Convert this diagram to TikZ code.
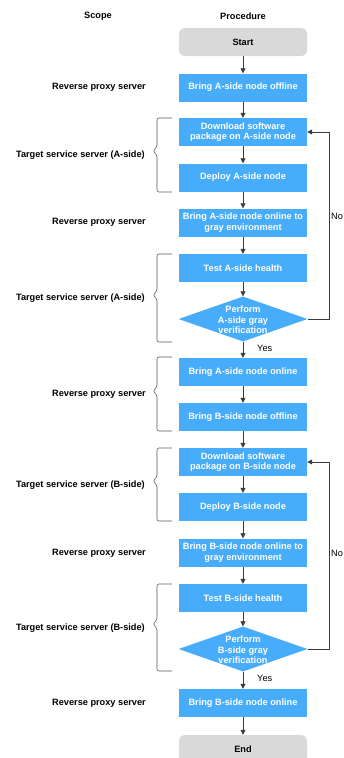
\documentclass[tikz,border=0pt]{standalone}
\usepackage{fontspec}
\setmainfont{Liberation Sans}
\usetikzlibrary{arrows.meta,shapes.geometric}
\definecolor{boxblue}{RGB}{71,172,250}
\definecolor{termgray}{RGB}{217,217,217}
\definecolor{linegray}{RGB}{60,60,60}
\definecolor{bracegray}{RGB}{90,90,90}
\newcommand\scopebrace[3]{%
  \draw[bracestyle] (172,#1) -- (157,#1) -- (157,#2-4) -- (153,#2) -- (157,#2+4) -- (157,#3) -- (172,#3);}
\begin{document}
\begin{tikzpicture}[x=1pt,y=-1pt,
  font=\fontsize{9.2}{10.5}\selectfont\bfseries,
  procbox/.style={fill=boxblue, text=white, minimum width=128pt, minimum height=28pt, inner sep=1pt, align=center},
  termbox/.style={fill=termgray, rounded corners=6pt, text=black, minimum width=128pt, minimum height=28pt, inner sep=1pt},
  decbox/.style={diamond, fill=boxblue, minimum width=129pt, minimum height=45pt, inner sep=0pt},
  dectext/.style={text=white, align=center, inner sep=0pt},
  scopelabel/.style={anchor=east, text=black, inner sep=0pt},
  head/.style={text=black, inner sep=0pt},
  flow/.style={draw=linegray, line width=0.8pt, -{Triangle[length=5pt,width=5pt]}},
  branch/.style={text=black, anchor=west, inner sep=0pt, font=\fontsize{9.2}{10.5}\selectfont},
  bracestyle/.style={draw=bracegray, line width=0.6pt, rounded corners=2pt}]
\fill[white] (0,0) rectangle (343,758);
\useasboundingbox (0,0) rectangle (343,758);

% headings
\node[head] (hscope) at (98,16) {Scope};
\node[head] (hproc) at (243,16) {Procedure};

% procedure
\node[termbox] (start) at (243,42) {Start};
\node[procbox] (n1) at (243,87.5) {Bring A-side node offline};
\node[procbox] (n2) at (243,132) {Download software\\package on A-side node};
\node[procbox] (n3) at (243,177.5) {Deploy A-side node};
\node[procbox] (n4) at (243,222.5) {Bring A-side node online to\\gray environment};
\node[procbox] (n5) at (243,268) {Test A-side health};
\node[decbox] (d1) at (243,319) {};
\node[dectext] (d1t) at (243,320) {Perform\\A-side gray\\verification};
\node[procbox] (n6) at (243,372) {Bring A-side node online};
\node[procbox] (n7) at (243,417) {Bring B-side node offline};
\node[procbox] (n8) at (243,462) {Download software\\package on B-side node};
\node[procbox] (n9) at (243,507) {Deploy B-side node};
\node[procbox] (n10) at (243,552.5) {Bring B-side node online to\\gray environment};
\node[procbox] (n11) at (243,598) {Test B-side health};
\node[decbox] (d2) at (243,649) {};
\node[dectext] (d2t) at (243,650) {Perform\\B-side gray\\verification};
\node[procbox] (n12) at (243,703) {Bring B-side node online};
\node[termbox] (end) at (243,749) {End};

% connectors
\draw[flow] (start) -- (n1);
\draw[flow] (n1) -- (n2);
\draw[flow] (n2) -- (n3);
\draw[flow] (n3) -- (n4);
\draw[flow] (n4) -- (n5);
\draw[flow] (n5) -- (d1);
\draw[flow] (d1) -- (n6);
\draw[flow] (n6) -- (n7);
\draw[flow] (n7) -- (n8);
\draw[flow] (n8) -- (n9);
\draw[flow] (n9) -- (n10);
\draw[flow] (n10) -- (n11);
\draw[flow] (n11) -- (d2);
\draw[flow] (d2) -- (n12);
\draw[flow] (n12) -- (end);
\coordinate (c1) at (329,319);
\coordinate (c2) at (329,649);
\draw[flow] (d1.east) -- (c1) |- (n2.east);
\draw[flow] (d2.east) -- (c2) |- (n8.east);
\node[branch] (no1) at (331,216) {No};
\node[branch] (no2) at (331,553) {No};
\node[branch] (yes1) at (257,348) {Yes};
\node[branch] (yes2) at (257,678) {Yes};

% scope labels
\node[scopelabel] (s1) at (146,87) {Reverse proxy server};
\node[scopelabel] (s2) at (145,155) {Target service server (A-side)};
\node[scopelabel] (s3) at (146,222) {Reverse proxy server};
\node[scopelabel] (s4) at (145,298) {Target service server (A-side)};
\node[scopelabel] (s5) at (146,394) {Reverse proxy server};
\node[scopelabel] (s6) at (145,485) {Target service server (B-side)};
\node[scopelabel] (s7) at (146,553) {Reverse proxy server};
\node[scopelabel] (s8) at (145,628) {Target service server (B-side)};
\node[scopelabel] (s9) at (146,703) {Reverse proxy server};

% braces
\scopebrace{118}{151}{192}
\scopebrace{254}{295}{342}
\scopebrace{357}{391}{431}
\scopebrace{448}{481}{521}
\scopebrace{584}{624}{671}
\end{tikzpicture}
\end{document}
